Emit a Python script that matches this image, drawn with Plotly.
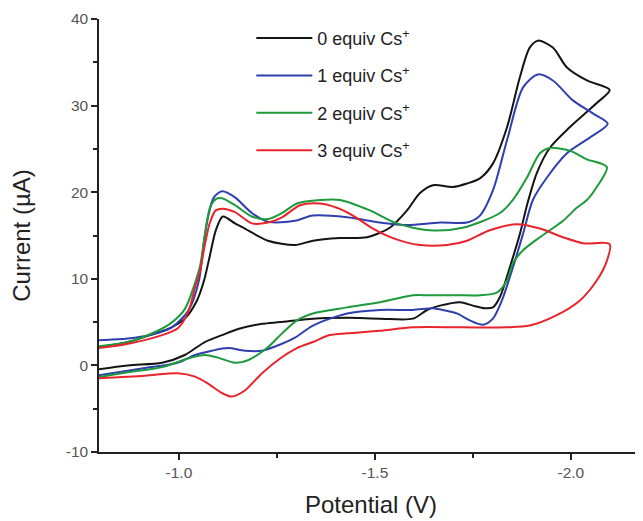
import plotly.graph_objects as go

# ---------------- data ----------------
labels = ["0 equiv Cs<sup>+</sup>", "1 equiv Cs<sup>+</sup>",
          "2 equiv Cs<sup>+</sup>", "3 equiv Cs<sup>+</sup>"]
colors = ["#141414", "#2f3fae", "#1c9a3c", "#e8242c"]

# 0 equiv : forward (upper) branch then return (lower) branch
black_v = [-0.796, -0.870, -0.926, -0.977, -1.015, -1.046, -1.064, -1.079, -1.094, -1.112,
           -1.143, -1.168, -1.227, -1.296, -1.342, -1.411, -1.480, -1.538, -1.582, -1.615,
           -1.648, -1.699, -1.735, -1.768, -1.801, -1.837, -1.870, -1.895, -1.916, -1.954,
           -1.990, -2.041, -2.099,
           -2.066, -1.997, -1.946, -1.913, -1.888, -1.870, -1.844, -1.819, -1.801, -1.781,
           -1.750, -1.717, -1.666, -1.633, -1.597, -1.513, -1.429, -1.342, -1.258, -1.212,
           -1.151, -1.110, -1.066, -1.015, -0.957, -0.870, -0.786]
black_i = [2.1, 2.7, 3.5, 4.3, 5.4, 7.5, 9.8, 12.7, 15.6, 17.2,
           16.4, 15.8, 14.4, 13.9, 14.4, 14.7, 14.8, 15.9, 17.9, 19.9,
           20.8, 20.6, 21.0, 21.6, 23.3, 27.5, 33.3, 36.7, 37.5, 36.7,
           34.4, 32.9, 31.8,
           30.3, 27.5, 25.1, 22.2, 18.5, 15.2, 11.3, 7.9, 6.7, 6.6,
           6.9, 7.3, 6.9, 6.4, 5.4, 5.4, 5.5, 5.4, 5.0, 4.8,
           4.2, 3.5, 2.7, 1.2, 0.3, 0.0, -0.5]

# 1 equiv
blue_v = [-0.796, -0.870, -0.926, -0.982, -1.025, -1.051, -1.064, -1.074, -1.089, -1.110,
          -1.143, -1.186, -1.227, -1.296, -1.342, -1.429, -1.513, -1.582, -1.666, -1.735,
          -1.768, -1.801, -1.837, -1.878, -1.916, -1.954, -2.005, -2.056, -2.094,
          -2.048, -1.990, -1.939, -1.903, -1.878, -1.852, -1.824, -1.801, -1.776, -1.742,
          -1.709, -1.673, -1.648, -1.597, -1.513, -1.429, -1.342, -1.296, -1.263, -1.212,
          -1.168, -1.125, -1.084, -1.041, -0.997, -0.913, -0.786]
blue_i = [2.9, 3.1, 3.5, 4.4, 6.4, 9.8, 14.4, 17.1, 19.4, 20.1,
          19.4, 17.6, 16.6, 16.7, 17.3, 17.1, 16.5, 16.2, 16.5, 16.5,
          17.3, 20.2, 26.0, 32.1, 33.6, 32.9, 30.6, 29.1, 27.9,
          26.3, 24.5, 21.7, 19.1, 15.2, 11.3, 7.5, 5.4, 4.7, 5.2,
          6.0, 6.4, 6.6, 6.4, 6.4, 6.0, 4.6, 3.2, 2.5, 1.7,
          1.7, 2.0, 1.7, 1.2, 0.3, -0.3, -1.2]

# 2 equiv
green_v = [-0.796, -0.870, -0.926, -0.977, -1.015, -1.041, -1.054, -1.066, -1.079, -1.094,
           -1.110, -1.143, -1.186, -1.227, -1.263, -1.301, -1.360, -1.411, -1.487, -1.556,
           -1.640, -1.724, -1.819, -1.852, -1.888, -1.921, -1.946, -1.997, -2.041, -2.092,
           -2.066, -2.041, -2.015, -1.980, -1.921, -1.878, -1.852, -1.837, -1.811, -1.768,
           -1.709, -1.640, -1.597, -1.513, -1.429, -1.342, -1.301, -1.263, -1.227, -1.176,
           -1.143, -1.099, -1.066, -1.023, -0.957, -0.870, -0.786]
green_i = [2.2, 2.7, 3.6, 4.8, 6.5, 9.5, 11.5, 15.0, 18.2, 19.2,
           19.3, 18.5, 17.2, 16.9, 17.6, 18.7, 19.1, 19.1, 17.9, 16.4,
           15.6, 15.9, 17.6, 19.1, 21.7, 24.5, 25.1, 24.8, 23.8, 22.9,
           20.6, 19.1, 18.2, 16.7, 14.8, 13.3, 11.8, 9.8, 8.4, 8.1,
           8.1, 8.1, 8.1, 7.3, 6.7, 6.0, 5.2, 3.7, 2.1, 0.6,
           0.3, 0.9, 1.2, 0.8, -0.2, -0.8, -1.4]

# 3 equiv
red_v = [-0.796, -0.870, -0.957, -0.997, -1.023, -1.041, -1.054, -1.066, -1.079, -1.094,
         -1.112, -1.143, -1.186, -1.227, -1.263, -1.309, -1.360, -1.403, -1.444, -1.495,
         -1.546, -1.615, -1.684, -1.735, -1.793, -1.862, -1.921, -1.980, -2.031, -2.099,
         -2.092, -2.066, -2.023, -1.964, -1.895, -1.837, -1.724, -1.597, -1.513, -1.429,
         -1.385, -1.342, -1.301, -1.258, -1.212, -1.168, -1.135, -1.110, -1.074, -1.041,
         -0.997, -0.913, -0.786]
red_i = [2.0, 2.5, 3.5, 4.3, 6.1, 9.0, 11.0, 13.9, 16.5, 17.9,
         18.1, 17.7, 16.4, 16.5, 17.1, 18.5, 18.7, 18.2, 17.3, 15.8,
         14.7, 13.9, 13.9, 14.4, 15.6, 16.3, 15.8, 14.8, 14.1, 14.0,
         12.1, 9.8, 7.5, 5.8, 4.6, 4.4, 4.4, 4.4, 4.0, 3.7,
         3.5, 2.7, 2.0, 0.8, -0.9, -2.9, -3.6, -3.2, -2.1, -1.3,
         -0.9, -1.2, -1.5]

x_tick_vals = [-1.0, -1.5, -2.0]
x_tick_text = ["-1.0", "-1.5", "-2.0"]
x_minor_vals = [-1.25, -1.75]
y_tick_vals = [40, 30, 20, 10, 0, -10]
y_tick_text = ["40", "30", "20", "10", "0", "-10"]
y_minor_vals = [35, 25, 15, 5, -5]

series = [(black_v, black_i), (blue_v, blue_i), (green_v, green_i), (red_v, red_i)]

# ---------------- figure ----------------
fig = go.Figure()
for k, ((vx, iy), name, col) in enumerate(zip(series, labels, colors)):
    fig.add_trace(go.Scatter(
        x=vx, y=iy, mode="lines", name=name, legendgroup=f"g{k}",
        line=dict(color=col, width=2, shape="spline", smoothing=0.8),
    ))

axis_col = "#222222"
tick_font = dict(size=15.5, color="#555555")
# the page body adds an 8px offset, so the figure is 8px smaller than the window
fig.update_layout(
    width=635, height=513,
    margin=dict(l=91, r=0, t=11, b=69),
    plot_bgcolor="white", paper_bgcolor="white",
    font=dict(family="Arial, Liberation Sans, sans-serif", color="#222222"),
    legend=dict(x=0.280, y=0.998, xanchor="left", yanchor="top",
                bgcolor="rgba(0,0,0,0)", font=dict(size=18, color="#222222"),
                tracegroupgap=11, itemwidth=56),
    showlegend=True,
)
fig.update_xaxes(
    range=[-0.796, -2.184], automargin=False,
    showline=True, linecolor=axis_col, linewidth=1.5,
    ticks="outside", ticklen=6, tickwidth=1.5, tickcolor=axis_col,
    tickmode="array", tickvals=x_tick_vals, ticktext=x_tick_text, tickfont=tick_font,
    minor=dict(tickmode="array", tickvals=x_minor_vals, ticks="outside", ticklen=4,
               tickwidth=1.5, tickcolor=axis_col),
    showgrid=False, zeroline=False,
    title=dict(text="Potential (V)", font=dict(size=24, color="#222222"), standoff=16),
)
fig.update_yaxes(
    range=[-10, 40], automargin=False,
    showline=True, linecolor=axis_col, linewidth=1.5,
    ticks="outside", ticklen=6, tickwidth=1.5, tickcolor=axis_col,
    tickmode="array", tickvals=y_tick_vals, ticktext=y_tick_text, tickfont=tick_font,
    minor=dict(tickmode="array", tickvals=y_minor_vals, ticks="outside", ticklen=4,
               tickwidth=1.5, tickcolor=axis_col),
    showgrid=False, zeroline=False,
    title=dict(text="Current (\u00b5A)", font=dict(size=24, color="#222222"), standoff=30),
)

fig.write_html("out.html")
